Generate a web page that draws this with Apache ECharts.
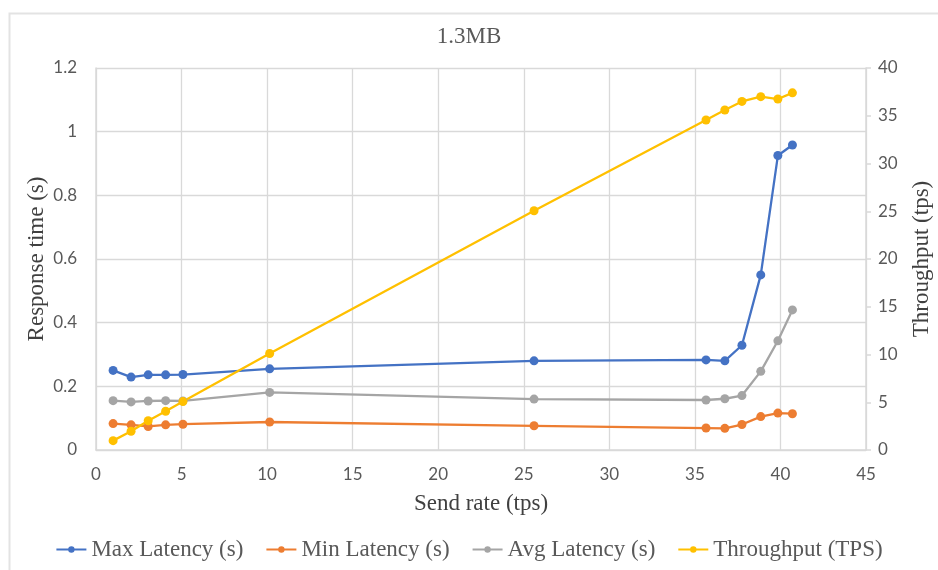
<!DOCTYPE html>
<html>
<head>
<meta charset="utf-8">
<script src="https://cdn.jsdelivr.net/npm/echarts@6/dist/echarts.min.js"></script>
<style>
  html, body { margin: 0; padding: 0; background: #fff; }
  #main { width: 938px; height: 570px; }
</style>
</head>
<body>
<div id="main"></div>
<script type="text/javascript">
// send rate (x)
var sendRate = [1, 2.05, 3.05, 4.07, 5.08, 10.15, 25.6, 35.65, 36.75, 37.75, 38.85, 39.85, 40.7];
// latencies in seconds (left axis)
var maxLatency = [0.250, 0.229, 0.236, 0.236, 0.237, 0.255, 0.280, 0.283, 0.280, 0.329, 0.550, 0.925, 0.958];
var minLatency = [0.083, 0.079, 0.074, 0.079, 0.081, 0.088, 0.076, 0.069, 0.068, 0.080, 0.105, 0.116, 0.114];
var avgLatency = [0.155, 0.151, 0.154, 0.155, 0.154, 0.181, 0.160, 0.157, 0.161, 0.171, 0.247, 0.343, 0.440];
// throughput in tps (right axis)
var throughput = [0.98, 1.96, 3.06, 4.06, 5.07, 10.1, 25.05, 34.55, 35.6, 36.5, 37.0, 36.75, 37.4];

function pairs(ys) {
  var out = [];
  for (var i = 0; i < ys.length; i++) {
    out.push([sendRate[i], ys[i]]);
  }
  return out;
}

var serif = "'Liberation Serif', 'DejaVu Serif', serif";
var sans = "Lato, 'Liberation Sans', sans-serif";

var myChart = echarts.init(document.getElementById('main'));

function lineSeries(name, color, data, yIdx) {
  return {
    name: name,
    type: 'line',
    yAxisIndex: yIdx,
    data: pairs(data),
    symbol: 'circle',
    symbolSize: 9,
    showSymbol: true,
    lineStyle: { color: color, width: 2.3 },
    itemStyle: { color: color },
    emphasis: { disabled: true },
    animation: false
  };
}

var option = {
  backgroundColor: '#fff',
  // chart area frame (cropped at right/bottom in the original)
  graphic: [{
    type: 'rect',
    left: 7,
    top: 11,
    silent: true,
    shape: { width: 1000, height: 600 },
    style: { fill: 'none', stroke: '#e3e3e3', lineWidth: 2 }
  }],
  title: {
    text: '1.3MB',
    left: 'center',
    top: 20,
    textStyle: { fontFamily: serif, fontSize: 23, fontWeight: 'normal', color: '#595959' }
  },
  legend: {
    bottom: 4,
    left: 'center',
    itemGap: 22,
    itemWidth: 30,
    itemHeight: 8,
    textStyle: { fontFamily: serif, fontSize: 23, color: '#595959' },
    data: ['Max Latency (s)', 'Min Latency (s)', 'Avg Latency (s)', 'Throughput (TPS)']
  },
  grid: { left: 96, right: 72, top: 68, bottom: 120, outerBoundsMode: 'none' },
  xAxis: {
    type: 'value',
    min: 0,
    max: 45,
    interval: 5,
    name: 'Send rate (tps)',
    nameLocation: 'middle',
    nameGap: 42,
    nameMoveOverlap: false,
    nameTextStyle: { fontFamily: serif, fontSize: 23, color: '#404040' },
    axisLine: { show: true, lineStyle: { color: '#d9d9d9', width: 1.5 } },
    axisTick: { show: false },
    axisLabel: { fontFamily: sans, fontSize: 17, color: '#595959', margin: 16 },
    splitLine: { show: true, lineStyle: { color: '#d9d9d9', width: 1.3 } }
  },
  yAxis: [
    {
      type: 'value',
      min: 0,
      max: 1.2,
      interval: 0.2,
      name: 'Response time (s)',
      nameLocation: 'middle',
      nameGap: 48,
      nameMoveOverlap: false,
      nameTextStyle: { fontFamily: serif, fontSize: 23, color: '#404040' },
      axisLine: { show: true, lineStyle: { color: '#d9d9d9', width: 1.5 } },
      axisTick: { show: false },
      axisLabel: {
        fontFamily: sans, fontSize: 17, color: '#595959', margin: 19,
        formatter: function (v) { return parseFloat(v.toFixed(1)).toString(); }
      },
      splitLine: { show: true, lineStyle: { color: '#d9d9d9', width: 1.3 } }
    },
    {
      type: 'value',
      min: 0,
      max: 40,
      interval: 5,
      position: 'right',
      name: 'Throughput (tps)',
      nameLocation: 'middle',
      nameGap: 44,
      nameMoveOverlap: false,
      nameTextStyle: { fontFamily: serif, fontSize: 23, color: '#404040' },
      axisLine: { show: true, lineStyle: { color: '#d9d9d9', width: 1.5 } },
      axisTick: { show: true, length: 5, inside: false, lineStyle: { color: '#d9d9d9', width: 1.5 } },
      axisLabel: { fontFamily: sans, fontSize: 17, color: '#595959', margin: 12 },
      splitLine: { show: false }
    }
  ],
  series: [
    lineSeries('Max Latency (s)', '#4472c4', maxLatency, 0),
    lineSeries('Min Latency (s)', '#ed7d31', minLatency, 0),
    lineSeries('Avg Latency (s)', '#a5a5a5', avgLatency, 0),
    lineSeries('Throughput (TPS)', '#ffc000', throughput, 1)
  ]
};

myChart.setOption(option);
</script>
</body>
</html>
